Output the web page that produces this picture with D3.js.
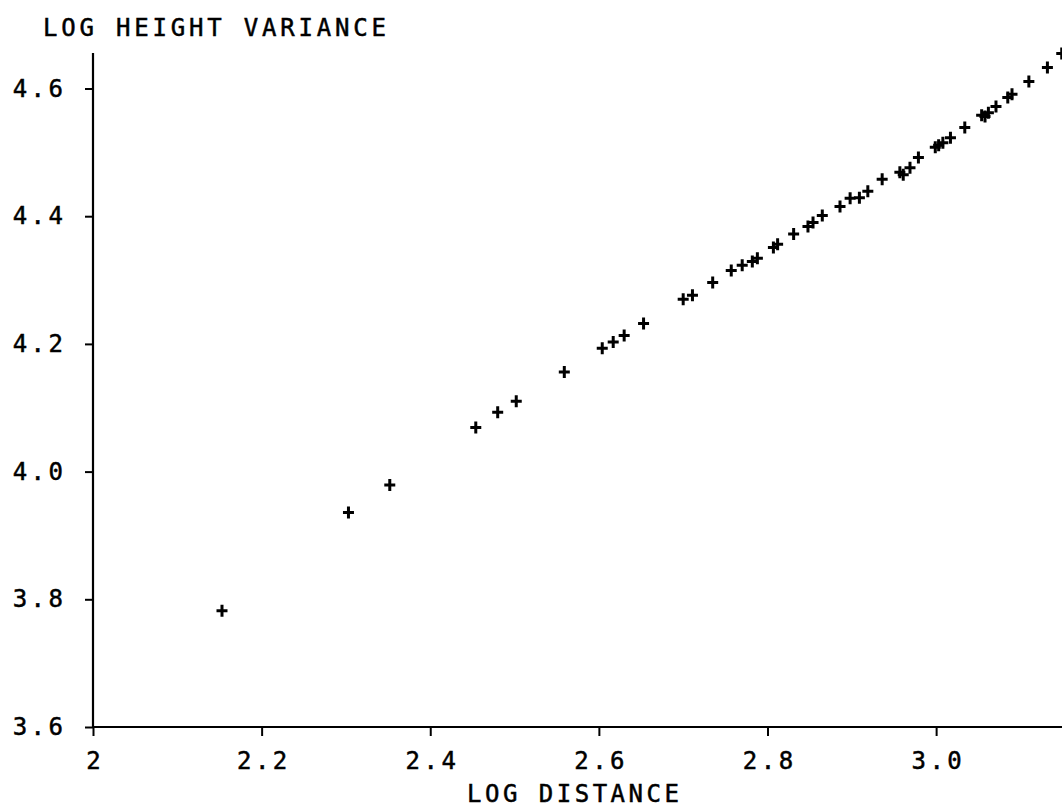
<!DOCTYPE html>
<html>
<head>
<meta charset="utf-8">
<script src="https://cdn.jsdelivr.net/npm/d3@7"></script>
<style>
  html, body { margin: 0; padding: 0; background: #fff; }
  svg { display: block; }
  text { font-family: "DejaVu Sans Mono", "Liberation Mono", monospace; fill: #000; stroke: #000; stroke-width: 0.5px; }
</style>
</head>
<body>
<svg id="chart" width="1062" height="807"></svg>
<script>
// ---- data ----
const logDistance = [
  2.153, 2.303, 2.352, 2.454, 2.480, 2.502, 2.559, 2.604, 2.617, 2.630,
  2.653, 2.700, 2.711, 2.735, 2.757, 2.770, 2.782, 2.788, 2.807, 2.812,
  2.831, 2.848, 2.854, 2.865, 2.886, 2.898, 2.909, 2.919, 2.936, 2.957,
  2.961, 2.969, 2.979, 2.999, 3.003, 3.008, 3.017, 3.034, 3.054, 3.058,
  3.062, 3.071, 3.085, 3.090, 3.110, 3.132, 3.149
];
const logHeightVariance = [
  3.782, 3.936, 3.979, 4.069, 4.093, 4.110, 4.156, 4.193, 4.203, 4.213,
  4.232, 4.270, 4.276, 4.296, 4.315, 4.323, 4.329, 4.334, 4.351, 4.356,
  4.372, 4.384, 4.390, 4.401, 4.415, 4.428, 4.429, 4.439, 4.458, 4.469,
  4.465, 4.476, 4.492, 4.508, 4.511, 4.515, 4.523, 4.539, 4.558, 4.556,
  4.562, 4.572, 4.586, 4.591, 4.611, 4.633, 4.655
];
const xTickValues = [2, 2.2, 2.4, 2.6, 2.8, 3.0];
const xTickLabels = ["2", "2.2", "2.4", "2.6", "2.8", "3.0"];
const yTickValues = [3.6, 3.8, 4.0, 4.2, 4.4, 4.6];
const yTickLabels = ["3.6", "3.8", "4.0", "4.2", "4.4", "4.6"];
const xTitle = "LOG DISTANCE";
const yTitle = "LOG HEIGHT VARIANCE";

(function () {
  const svg = d3.select("#chart");
  const mLeft = 93, mRight = 1062, mTop = 53, mBottom = 727;
  const x = d3.scaleLinear().domain([2, 3.1493]).range([mLeft, mRight]);
  const y = d3.scaleLinear().domain([3.6, 4.6556]).range([mBottom, mTop]);

  const fontSize = 24, spacing = 3.5;

  svg.append("line").attr("x1", mLeft).attr("x2", mLeft).attr("y1", mTop).attr("y2", mBottom)
    .attr("stroke", "#000").attr("stroke-width", 2.2);
  svg.append("line").attr("x1", mLeft).attr("x2", mRight).attr("y1", mBottom).attr("y2", mBottom)
    .attr("stroke", "#000").attr("stroke-width", 2.2);

  const xAxis = d3.axisBottom(x).tickValues(xTickValues)
    .tickFormat((d, i) => xTickLabels[i]).tickSize(9).tickPadding(16);
  const gx = svg.append("g").attr("transform", `translate(0,${mBottom})`).call(xAxis);
  gx.select(".domain").remove();
  gx.selectAll(".tick line").attr("stroke", "#000").attr("stroke-width", 2);
  gx.selectAll(".tick text").attr("font-size", fontSize)
    .attr("font-family", "DejaVu Sans Mono")
    .style("letter-spacing", spacing + "px").attr("dx", spacing / 2);

  const yAxis = d3.axisLeft(y).tickValues(yTickValues)
    .tickFormat((d, i) => yTickLabels[i]).tickSize(8).tickPadding(22);
  const gy = svg.append("g").attr("transform", `translate(${mLeft},0)`).call(yAxis);
  gy.select(".domain").remove();
  gy.selectAll(".tick line").attr("stroke", "#000").attr("stroke-width", 2);
  gy.selectAll(".tick text").attr("font-size", fontSize)
    .attr("font-family", "DejaVu Sans Mono")
    .style("letter-spacing", spacing + "px").attr("dx", spacing);

  svg.append("text").attr("x", 43).attr("y", 36)
    .attr("font-size", fontSize).style("letter-spacing", "3.8px").text(yTitle);
  svg.append("text").attr("x", 467).attr("y", 802)
    .attr("font-size", fontSize).style("letter-spacing", spacing + "px").text(xTitle);

  const pts = logDistance.map((d, i) => [d, logHeightVariance[i]]);
  svg.append("g").selectAll("path").data(pts).join("path")
    .attr("transform", d => `translate(${x(d[0])},${y(d[1])})`)
    .attr("d", "M-5.5,0H5.5M0,-6V6")
    .attr("stroke", "#000").attr("stroke-width", 3).attr("fill", "none");
})();
</script>
</body>
</html>
